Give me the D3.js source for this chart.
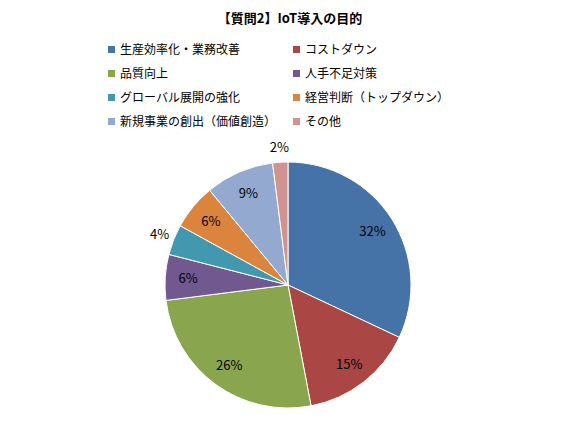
<!DOCTYPE html>
<html lang="ja">
<head>
<meta charset="UTF-8">
<script src="https://cdn.jsdelivr.net/npm/d3@7/dist/d3.min.js"></script>
<style>
    body { margin: 0; background: #fff; }
    text { font-family: "Noto Sans CJK JP", "DejaVu Sans", sans-serif; }
</style>
</head>
<body>
<div id="chart"></div>
<script>
const width = 580;
const height = 435;
const categories = ['生産効率化・業務改善', 'コストダウン', '品質向上', '人手不足対策',
    'グローバル展開の強化', '経営判断（トップダウン）', '新規事業の創出（価値創造）', 'その他'];
const values = [32, 15, 26, 6, 4, 6, 9, 2];
const colors = ['#4572A7', '#AA4643', '#89A54E', '#71588F', '#4198AF', '#DB843D', '#93A9CF', '#D19392'];
const outside = [false, false, false, false, true, false, false, true];

const svg = d3.select('#chart').append('svg')
    .attr('width', width).attr('height', height);

svg.append('text')
    .attr('x', 290).attr('y', 23)
    .attr('text-anchor', 'middle')
    .attr('font-size', 13).attr('font-weight', 'bold')
    .text('【質問2】IoT導入の目的');

// 凡例
const legend = svg.append('g');
categories.forEach((c, i) => {
    const lx = i % 2 === 0 ? 108 : 293;
    const ly = 50 + Math.floor(i / 2) * 24;
    legend.append('rect').attr('x', lx).attr('y', ly - 4).attr('width', 7).attr('height', 7).attr('fill', colors[i]);
    legend.append('text').attr('x', lx + 12).attr('y', ly + 4).attr('font-size', 12).text(c);
});

const cx = 288, cy = 285, r = 123;
const pie = d3.pie().sort(null).value(d => d)(values);
const arc = d3.arc().innerRadius(0).outerRadius(r);
const g = svg.append('g').attr('transform', `translate(${cx},${cy})`);

g.selectAll('path').data(pie).enter().append('path')
    .attr('d', arc)
    .attr('fill', (d, i) => colors[i])
    .attr('stroke', '#fff').attr('stroke-width', 1);

g.selectAll('.lbl').data(pie).enter().append('text')
    .attr('class', 'lbl')
    .attr('transform', (d, i) => {
        const rr = outside[i] ? 138 : 100;
        return `translate(${d3.arc().innerRadius(rr).outerRadius(rr).centroid(d)})`;
    })
    .attr('text-anchor', 'middle').attr('dy', '0.35em')
    .attr('font-size', 13)
    .text(d => d.data + '%');
</script>
</body>
</html>
